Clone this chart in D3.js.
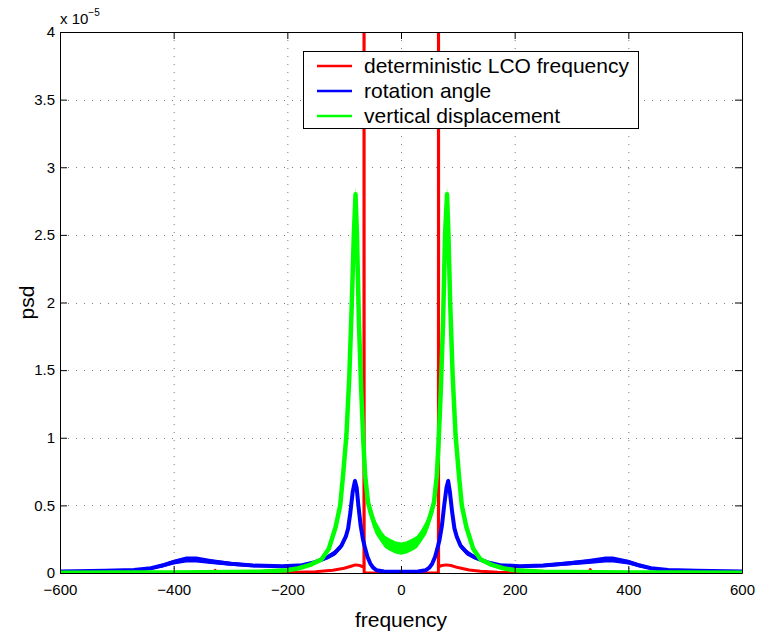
<!DOCTYPE html>
<html>
<head>
<meta charset="utf-8">
<script src="https://cdn.jsdelivr.net/npm/d3@7"></script>
<style>
  html, body { margin: 0; padding: 0; background: #fff; }
  svg { display: block; font-family: "Liberation Sans", Arial, Helvetica, sans-serif; }
</style>
</head>
<body>
<svg id="chart" width="759" height="636"></svg>
<script>
// ---- data (psd values in units of 1e-5) ----
const xTicks = [-600, -400, -200, 0, 200, 400, 600];
const xTickLabels = ["\u2212600", "\u2212400", "\u2212200", "0", "200", "400", "600"];
const yTicks = [0, 0.5, 1, 1.5, 2, 2.5, 3, 3.5, 4];
const yTickLabels = ["0", "0.5", "1", "1.5", "2", "2.5", "3", "3.5", "4"];
const seriesNames = ["deterministic LCO frequency", "rotation angle", "vertical displacement"];

// deterministic LCO frequency (red)
const redFreq = [-600, -400, -330, -327, -324, -250, -200, -150, -120, -100, -88, -80, -72, -67, -65.2, -65, -64.8, 0,
                 65.8, 66, 66.2, 68, 72, 80, 88, 100, 120, 140, 170, 200, 300, 330, 333, 336, 400, 600];
const redVal  = [0.001, 0.001, 0.001, 0.02, 0.001, 0.002, 0.003, 0.01, 0.02, 0.035, 0.05, 0.06, 0.055, 0.045, 0.04, 12, 0, 0,
                 0, 12, 0.045, 0.05, 0.055, 0.06, 0.055, 0.04, 0.022, 0.013, 0.006, 0.003, 0.001, 0.001, 0.025, 0.001, 0.001, 0.001];

// rotation angle (blue): value and noise half-spread
const blueFreq = [-600, -520, -470, -440, -420, -400, -378, -360, -335, -300, -260, -209, -174, -151, -130, -116, -105, -97, -93, -89, -85, -81, -78, -75, -71, -67, -63, -59, -54, -49, -43, -30, 0,
                  30, 43, 50, 55, 60, 64, 68, 72, 76, 80, 83, 86, 90, 94, 98, 105, 116, 130, 151, 174, 209, 250, 292, 330, 360, 373, 400, 420, 440, 470, 520, 600];
const blueVal  = [0.012, 0.016, 0.022, 0.035, 0.055, 0.08, 0.1, 0.1, 0.085, 0.068, 0.055, 0.05, 0.058, 0.08, 0.115, 0.15, 0.2, 0.27, 0.33, 0.45, 0.6, 0.68, 0.63, 0.5, 0.35, 0.25, 0.18, 0.12, 0.07, 0.04, 0.02, 0.012, 0.01,
                  0.012, 0.02, 0.04, 0.07, 0.12, 0.18, 0.25, 0.35, 0.5, 0.63, 0.68, 0.6, 0.45, 0.33, 0.27, 0.2, 0.15, 0.115, 0.08, 0.058, 0.05, 0.055, 0.07, 0.085, 0.1, 0.1, 0.08, 0.055, 0.035, 0.022, 0.016, 0.012];
const blueSpread = [0.005, 0.006, 0.008, 0.01, 0.015, 0.018, 0.022, 0.022, 0.018, 0.015, 0.012, 0.01, 0.01, 0.012, 0.015, 0.02, 0.02, 0.025, 0.03, 0.03, 0.03, 0.02, 0.03, 0.03, 0.03, 0.02, 0.02, 0.015, 0.01, 0.005, 0.005, 0.005, 0.005,
                    0.005, 0.005, 0.005, 0.01, 0.015, 0.02, 0.02, 0.03, 0.03, 0.03, 0.02, 0.03, 0.03, 0.03, 0.025, 0.02, 0.02, 0.015, 0.012, 0.01, 0.01, 0.012, 0.015, 0.018, 0.022, 0.022, 0.018, 0.015, 0.01, 0.008, 0.006, 0.005];

// vertical displacement (green): value and noise half-spread
const greenFreq = [-600, -500, -400, -300, -250, -200, -180, -160, -140, -127, -115, -107, -102, -96, -91, -86.5, -83, -80, -77.5, -74, -70, -66, -63, -58, -52, -45, -35, -28, -20, -10, 0,
                   10, 20, 28, 35, 45, 52, 58, 63, 66, 70, 74, 77.5, 81, 83.5, 86.5, 91, 96, 102, 107, 115, 127, 140, 160, 180, 200, 250, 300, 400, 500, 600];
const greenVal  = [0.002, 0.003, 0.004, 0.007, 0.01, 0.02, 0.035, 0.06, 0.1, 0.18, 0.34, 0.5, 0.72, 1.02, 1.45, 2.0, 2.5, 2.8, 2.5, 1.85, 1.35, 0.95, 0.72, 0.52, 0.43, 0.34, 0.27, 0.23, 0.21, 0.19, 0.18,
                   0.19, 0.21, 0.23, 0.27, 0.34, 0.43, 0.52, 0.72, 0.95, 1.35, 1.85, 2.5, 2.8, 2.5, 2.0, 1.45, 1.02, 0.72, 0.5, 0.34, 0.18, 0.1, 0.06, 0.035, 0.02, 0.01, 0.007, 0.004, 0.003, 0.002];
const greenSpread = [0.001, 0.001, 0.002, 0.002, 0.003, 0.004, 0.006, 0.01, 0.015, 0.025, 0.04, 0.05, 0.06, 0.08, 0.1, 0.12, 0.12, 0.05, 0.12, 0.12, 0.1, 0.08, 0.07, 0.06, 0.05, 0.05, 0.045, 0.045, 0.045, 0.045, 0.045,
                     0.045, 0.045, 0.045, 0.045, 0.05, 0.05, 0.06, 0.07, 0.08, 0.1, 0.12, 0.12, 0.05, 0.12, 0.12, 0.1, 0.08, 0.06, 0.05, 0.04, 0.025, 0.015, 0.01, 0.006, 0.004, 0.003, 0.002, 0.002, 0.001, 0.001];

// ---- layout ----
const svg = d3.select("#chart");
const L = 60, R = 742, T = 32, B = 573;
const x = d3.scaleLinear().domain([-600, 600]).range([L, R]);
const y = d3.scaleLinear().domain([0, 4]).range([B, T]);

svg.append("rect").attr("width", 759).attr("height", 636).attr("fill", "#fff");

// grid
const grid = svg.append("g").attr("stroke", "#444").attr("stroke-width", 1)
  .attr("stroke-dasharray", "1,7").attr("opacity", 0.7);
xTicks.filter(t => t > -600 && t < 600).forEach(t => {
  grid.append("line").attr("x1", x(t) + 0.5).attr("x2", x(t) + 0.5).attr("y1", T).attr("y2", B);
});
yTicks.filter(t => t > 0 && t < 4).forEach(t => {
  grid.append("line").attr("x1", L).attr("x2", R).attr("y1", Math.round(y(t)) + 0.5).attr("y2", Math.round(y(t)) + 0.5);
});

// clip
svg.append("clipPath").attr("id", "plotclip").append("rect")
  .attr("x", L).attr("y", T).attr("width", R - L).attr("height", B - T);
const plot = svg.append("g").attr("clip-path", "url(#plotclip)");

function drawSeries(freq, val, spread, color, width) {
  const pts = freq.map((f, i) => ({ f, v: val[i], s: spread ? spread[i] : 0 }));
  if (spread) {
    plot.append("path").datum(pts)
      .attr("fill", color)
      .attr("d", d3.area().x(d => x(d.f)).y0(d => y(Math.max(0, d.v - d.s))).y1(d => y(d.v + d.s)));
  }
  plot.append("path").datum(pts)
    .attr("fill", "none").attr("stroke", color).attr("stroke-width", width)
    .attr("stroke-linejoin", "round").attr("stroke-linecap", "butt")
    .attr("d", d3.line().x(d => x(d.f)).y(d => y(d.v)));
}
drawSeries(redFreq, redVal, null, "#ff0000", 3);
drawSeries(blueFreq, blueVal, blueSpread, "#0000ff", 4);
drawSeries(greenFreq, greenVal, greenSpread, "#00ff00", 4.5);

// axes (ticks inside, box on)
function styleAxis(g) {
  g.attr("font-family", null).attr("font-size", null);
  g.select(".domain").attr("stroke", "#000").attr("stroke-width", 1);
  g.selectAll(".tick line").attr("stroke", "#000");
  g.selectAll(".tick text").attr("fill", "#000").style("font-size", "15px");
}
svg.append("g").attr("transform", `translate(0,${B})`)
  .call(d3.axisBottom(x).tickValues(xTicks).tickSizeInner(-7).tickSizeOuter(0).tickPadding(11)
    .tickFormat((d, i) => xTickLabels[i]))
  .call(styleAxis);
svg.append("g").attr("transform", `translate(0,${T})`)
  .call(d3.axisTop(x).tickValues(xTicks).tickSizeInner(-7).tickSizeOuter(0).tickFormat(""))
  .call(styleAxis);
svg.append("g").attr("transform", `translate(${L},0)`)
  .call(d3.axisLeft(y).tickValues(yTicks).tickSizeInner(-7).tickSizeOuter(0).tickPadding(5)
    .tickFormat((d, i) => yTickLabels[i]))
  .call(styleAxis);
svg.append("g").attr("transform", `translate(${R},0)`)
  .call(d3.axisRight(y).tickValues(yTicks).tickSizeInner(-7).tickSizeOuter(0).tickFormat(""))
  .call(styleAxis);

// exponent
const ex = svg.append("text").attr("x", L).attr("y", 24).style("font-size", "15px");
ex.append("tspan").text("x 10");
ex.append("tspan").attr("dy", -8).style("font-size", "10px").text("\u22125");

// axis labels
svg.append("text").attr("x", (L + R) / 2).attr("y", 627).attr("text-anchor", "middle")
  .style("font-size", "21px").text("frequency");
svg.append("text").attr("transform", `translate(34,${(T + B) / 2}) rotate(-90)`)
  .attr("text-anchor", "middle").style("font-size", "21px").text("psd");

// legend
const lg = svg.append("g");
lg.append("rect").attr("x", 303.5).attr("y", 51.5).attr("width", 335).attr("height", 77)
  .attr("fill", "#fff").attr("stroke", "#000").attr("stroke-width", 1);
const legColors = ["#ff0000", "#0000ff", "#00ff00"];
seriesNames.forEach((name, i) => {
  const yy = 66 + i * 25;
  lg.append("line").attr("x1", 317).attr("x2", 352).attr("y1", yy).attr("y2", yy)
    .attr("stroke", legColors[i]).attr("stroke-width", 2.5);
  lg.append("text").attr("x", 364).attr("y", yy + 7).style("font-size", "21px").text(name);
});
</script>
</body>
</html>
